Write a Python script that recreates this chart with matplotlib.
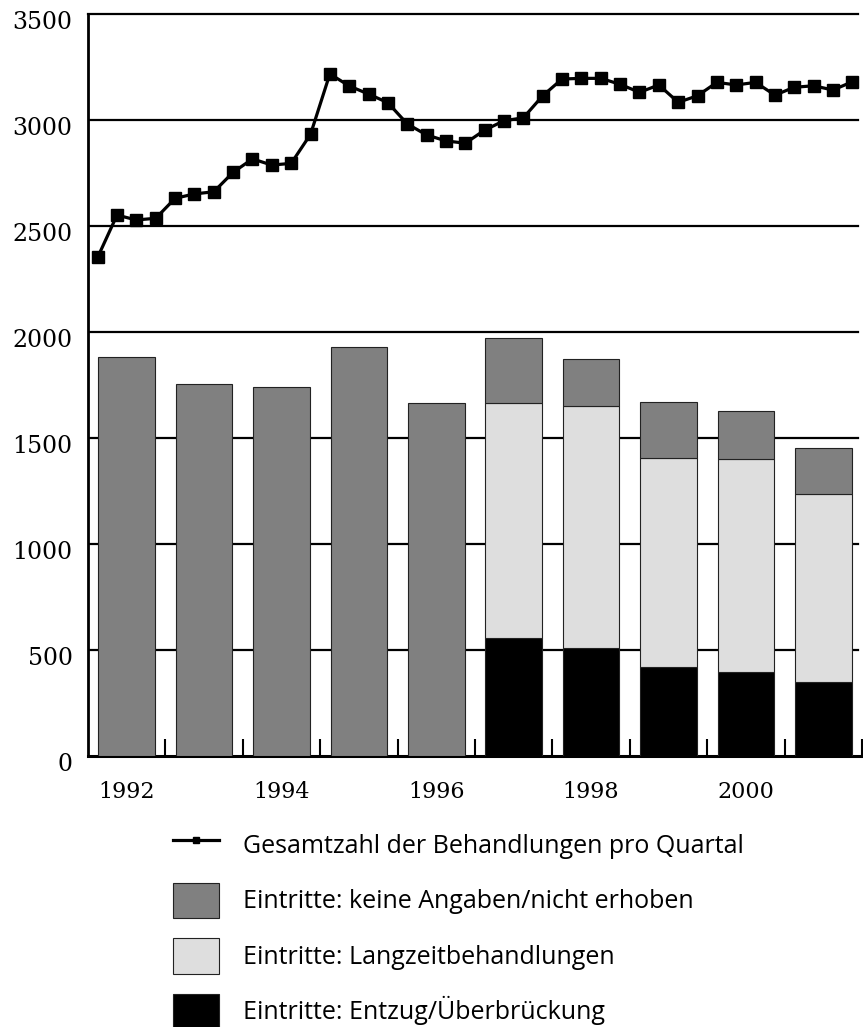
import matplotlib
matplotlib.use('Agg')
import matplotlib.pyplot as plt
import matplotlib.transforms as mtransforms
from matplotlib.lines import Line2D
from matplotlib.patches import Patch
import numpy as np

# --- data ---
years = [1992, 1993, 1994, 1995, 1996, 1997, 1998, 1999, 2000, 2001]
# Eintritte pro Jahr (gestapelt); vor 1997 nur Gesamtwert ohne Aufschluesselung
entzug = [0, 0, 0, 0, 0, 554, 509, 420, 393, 348]
langzeit = [0, 0, 0, 0, 0, 1111, 1139, 983, 1005, 885]
keine_angaben = [1882, 1755, 1741, 1928, 1665, 307, 223, 267, 228, 217]
# Gesamtzahl der Behandlungen pro Quartal (1992 Q1 .. 2001 Q4)
quartal = [2351, 2550, 2527, 2535,
           2629, 2650, 2660, 2752,
           2815, 2786, 2794, 2931,
           3216, 3159, 3121, 3080,
           2980, 2928, 2900, 2889,
           2951, 2995, 3009, 3113,
           3192, 3195, 3195, 3167,
           3129, 3164, 3082, 3113,
           3176, 3164, 3176, 3116,
           3153, 3160, 3140, 3179]

labels = ["Gesamtzahl der Behandlungen pro Quartal",
          "Eintritte: keine Angaben/nicht erhoben",
          "Eintritte: Langzeitbehandlungen",
          "Eintritte: Entzug/Überbrückung"]

c_gray = "#808080"
c_light = "#dedede"
c_black = "#000000"
edge = "#222222"

W, H = 863, 1027
fig = plt.figure(figsize=(W / 100, H / 100), dpi=100)
ax = fig.add_axes([88 / W, 1 - 755.7 / H, (862 - 88) / W, (755.7 - 13.7) / H])

n = len(years)
xs = np.arange(n) + 0.5
bw = 0.73
e = np.array(entzug)
l = np.array(langzeit)
k = np.array(keine_angaben)
m = e > 0
ax.bar(xs[m], e[m], bw, color=c_black, edgecolor=edge, linewidth=0.8, zorder=3)
ax.bar(xs[m], l[m], bw, bottom=e[m], color=c_light, edgecolor=edge, linewidth=0.8, zorder=3)
ax.bar(xs, k, bw, bottom=e + l, color=c_gray, edgecolor=edge, linewidth=0.8, zorder=3)

qx = np.arange(len(quartal)) / 4 + 0.125
ax.plot(qx, quartal, color="black", lw=2.3, marker="s", ms=8, zorder=4)

ax.set_xlim(0, n)
ax.set_ylim(0, 3500)

for yv in range(500, 3500, 500):
    ax.axhline(yv, xmin=0, xmax=0.995, color="black", lw=1.6, zorder=1)

ax.spines["right"].set_visible(False)
ax.spines["top"].set_linewidth(1.6)
ax.spines["top"].set_bounds(0, 9.95)
ax.spines["left"].set_linewidth(2.0)
ax.spines["bottom"].set_linewidth(2.2)

ax.set_yticks(range(0, 3501, 500))
ax.tick_params(axis="y", length=0, pad=11)
ax.set_xticks(np.arange(1, n + 1))
ax.set_xticklabels([])
ax.tick_params(axis="x", which="major", direction="in", length=12, width=1.5)
ax.set_xticks(xs[::2], minor=True)
ax.set_xticklabels([str(y) for y in years[::2]], minor=True)
ax.tick_params(axis="x", which="minor", length=0, pad=18)

for lab in ax.get_yticklabels():
    lab.set_fontfamily("DejaVu Serif")
    lab.set_fontsize(17)
for lab in ax.get_xticklabels(minor=True):
    lab.set_fontfamily("DejaVu Serif")
    lab.set_fontsize(16)
off = mtransforms.ScaledTranslation(0, -6 / 100, fig.dpi_scale_trans)
for lab in ax.get_yticklabels():
    lab.set_transform(lab.get_transform() + off)

handles = [Line2D([0], [0], color="black", lw=2.3, marker="s", ms=5),
           Patch(facecolor=c_gray, edgecolor=edge, linewidth=0.8),
           Patch(facecolor=c_light, edgecolor=edge, linewidth=0.8),
           Patch(facecolor=c_black, edgecolor=edge, linewidth=0.8)]
fs = 18
fpx = fs * 100 / 72
hh = (35.5 / fpx - 0.245) / 0.65
fig.legend(handles, labels, loc="upper left",
           bbox_to_anchor=(173 / W, 1 - 827 / H),
           frameon=False, borderpad=0, borderaxespad=0,
           prop={"family": "Open Sans", "size": fs},
           handlelength=46 / fpx, handleheight=hh,
           handletextpad=24 / fpx, labelspacing=20 / fpx)

plt.savefig("out.png", dpi=100)
